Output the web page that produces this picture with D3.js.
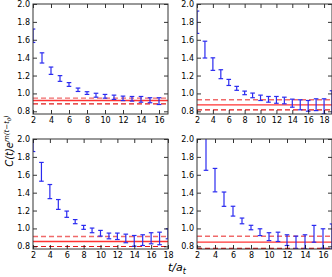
<!DOCTYPE html>
<html lang="en">
<head>
<meta charset="UTF-8">
<title>C(t) effective plots</title>
<script src="https://cdn.jsdelivr.net/npm/d3@7"></script>
<style>
    body { margin: 0; padding: 0; overflow: hidden; background: #fff; }
    svg { display: block; }
    text { font-family: "DejaVu Sans", sans-serif; }
</style>
</head>
<body>
<svg id="demo" width="332" height="277"></svg>
<script>
// panel A (top left)
var tA = [2, 3, 4, 5, 6, 7, 8, 9, 10, 11, 12, 13, 14, 15, 16];
var valA = [1.645, 1.397, 1.254, 1.167, 1.100, 1.041, 1.004, 0.980, 0.968, 0.957, 0.945, 0.940, 0.934, 0.924, 0.914];
var errA = [0.075, 0.057, 0.041, 0.032, 0.021, 0.019, 0.015, 0.022, 0.021, 0.024, 0.025, 0.026, 0.032, 0.028, 0.038];
var fitA = [0.921, 0.947, 0.884]; // value, upper, lower

// panel B (top right)
var tB = [2, 3, 4, 5, 6, 7, 8, 9, 10, 11, 12, 13, 14, 15, 16, 17, 18, 19];
var valB = [1.796, 1.490, 1.328, 1.215, 1.123, 1.057, 1.006, 0.978, 0.951, 0.934, 0.928, 0.921, 0.891, 0.873, 0.861, 0.874, 0.856, 0.890];
var errB = [0.125, 0.094, 0.070, 0.050, 0.034, 0.022, 0.020, 0.026, 0.030, 0.032, 0.038, 0.037, 0.045, 0.056, 0.060, 0.066, 0.084, 0.140];
var fitB = [0.872, 0.929, 0.816];

// panel C (bottom left)
var tC = [2, 3, 4, 5, 6, 7, 8, 9, 10, 11, 12, 13, 14, 15, 16, 17, 18];
var valC = [1.980, 1.633, 1.412, 1.268, 1.159, 1.076, 1.012, 0.978, 0.946, 0.916, 0.912, 0.888, 0.861, 0.869, 0.890, 0.888, 0.940];
var errC = [0.120, 0.105, 0.079, 0.055, 0.035, 0.023, 0.022, 0.026, 0.032, 0.032, 0.036, 0.048, 0.060, 0.060, 0.062, 0.070, 0.056];
var fitC = [0.854, 0.910, 0.798];

// panel D (bottom right)
var tD = [3, 4, 5, 6, 7, 8, 9, 10, 11, 12, 13, 14, 15, 16, 17];
var valD = [1.835, 1.540, 1.327, 1.193, 1.084, 1.010, 0.958, 0.908, 0.906, 0.869, 0.843, 0.850, 0.940, 0.887, 0.910];
var errD = [0.185, 0.131, 0.080, 0.055, 0.032, 0.025, 0.038, 0.044, 0.052, 0.060, 0.071, 0.079, 0.094, 0.109, 0.140];
var fitD = [0.846, 0.913, 0.778];

var yTicks = [0.8, 1.0, 1.2, 1.4, 1.6, 1.8, 2.0];
var xTicks16 = [2, 4, 6, 8, 10, 12, 14, 16];
var xTicks18 = [2, 4, 6, 8, 10, 12, 14, 16, 18];

var W = 135, H = 110;
var panels = [
    { x0: 33, y0: 4, xmax: 17, t: tA, v: valA, e: errA, fit: fitA, xt: xTicks16 },
    { x0: 197, y0: 4, xmax: 19, t: tB, v: valB, e: errB, fit: fitB, xt: xTicks18 },
    { x0: 33, y0: 139, xmax: 18, t: tC, v: valC, e: errC, fit: fitC, xt: xTicks18 },
    { x0: 197, y0: 139, xmax: 17, t: tD, v: valD, e: errD, fit: fitD, xt: xTicks16 }
];

var svg = d3.select("#demo");

panels.forEach(function (p, i) {
    var x = d3.scaleLinear().domain([2, p.xmax]).range([0, W]);
    var y = d3.scaleLinear().domain([0.77, 2.0]).range([H, 0]);
    var g = svg.append("g").attr("transform", "translate(" + p.x0 + "," + p.y0 + ")");

    g.append("clipPath").attr("id", "clip" + i)
        .append("rect").attr("width", W).attr("height", H);

    var plot = g.append("g").attr("clip-path", "url(#clip" + i + ")");

    // fit band lines
    plot.append("line").attr("x1", 0).attr("x2", W)
        .attr("y1", y(p.fit[1])).attr("y2", y(p.fit[1]))
        .attr("stroke", "#f06a6a").attr("stroke-width", 1.4).attr("stroke-dasharray", "5,3");
    plot.append("line").attr("x1", 0).attr("x2", W)
        .attr("y1", y(p.fit[0])).attr("y2", y(p.fit[0]))
        .attr("stroke", "#ff3333").attr("stroke-width", 1.3);
    plot.append("line").attr("x1", 0).attr("x2", W)
        .attr("y1", y(p.fit[2])).attr("y2", y(p.fit[2]))
        .attr("stroke", "#e01818").attr("stroke-width", 1.2).attr("stroke-dasharray", "5,3");

    // error bars
    var bars = plot.selectAll(".eb").data(p.t).enter().append("g")
        .attr("stroke", "#2a2af0").attr("stroke-width", 1.2);
    bars.append("line")
        .attr("x1", function (d) { return x(d); }).attr("x2", function (d) { return x(d); })
        .attr("y1", function (d, j) { return y(p.v[j] + p.e[j]); })
        .attr("y2", function (d, j) { return y(p.v[j] - p.e[j]); });
    bars.append("line")
        .attr("x1", function (d) { return x(d) - 2.3; }).attr("x2", function (d) { return x(d) + 2.3; })
        .attr("y1", function (d, j) { return y(p.v[j] + p.e[j]); })
        .attr("y2", function (d, j) { return y(p.v[j] + p.e[j]); });
    bars.append("line")
        .attr("x1", function (d) { return x(d) - 2.3; }).attr("x2", function (d) { return x(d) + 2.3; })
        .attr("y1", function (d, j) { return y(p.v[j] - p.e[j]); })
        .attr("y2", function (d, j) { return y(p.v[j] - p.e[j]); });

    // axes, ticks inward on all sides
    var fmt = d3.format(".1f");
    var ax = [
        g.append("g").attr("transform", "translate(0," + H + ")")
            .call(d3.axisBottom(x).tickValues(p.xt).tickSize(-4).tickPadding(3)),
        g.append("g").call(d3.axisTop(x).tickValues(p.xt).tickSize(-4).tickFormat("")),
        g.append("g").call(d3.axisLeft(y).tickValues(yTicks).tickSize(-4).tickPadding(3).tickFormat(fmt)),
        g.append("g").attr("transform", "translate(" + W + ",0)")
            .call(d3.axisRight(y).tickValues(yTicks).tickSize(-4).tickFormat(""))
    ];
    ax.forEach(function (a) {
        a.select(".domain").remove();
        a.selectAll("text").attr("font-size", "8px").attr("fill", "#000")
            .style("font-family", "DejaVu Sans, sans-serif");
        a.selectAll("line").attr("stroke", "#000").attr("stroke-width", 0.8);
    });

    g.append("rect").attr("width", W).attr("height", H)
        .attr("fill", "none").attr("stroke", "#333").attr("stroke-width", 1);
});

// axis titles
var yl = svg.append("text")
    .attr("transform", "translate(13,141) rotate(-90)")
    .attr("text-anchor", "middle")
    .attr("font-size", "10px").attr("font-style", "italic");
yl.append("tspan").text("C(t)e");
yl.append("tspan").attr("font-size", "7px").attr("dy", "-4").text("m(t\u2212t");
yl.append("tspan").attr("font-size", "5px").attr("dy", "2").text("0");
yl.append("tspan").attr("font-size", "7px").attr("dy", "-2").text(")");

var xl = svg.append("text")
    .attr("x", 177).attr("y", 271)
    .attr("text-anchor", "middle")
    .attr("font-size", "11px").attr("font-style", "italic");
xl.append("tspan").text("t/a");
xl.append("tspan").attr("font-size", "8px").attr("dy", "3").text("t");
</script>
</body>
</html>
